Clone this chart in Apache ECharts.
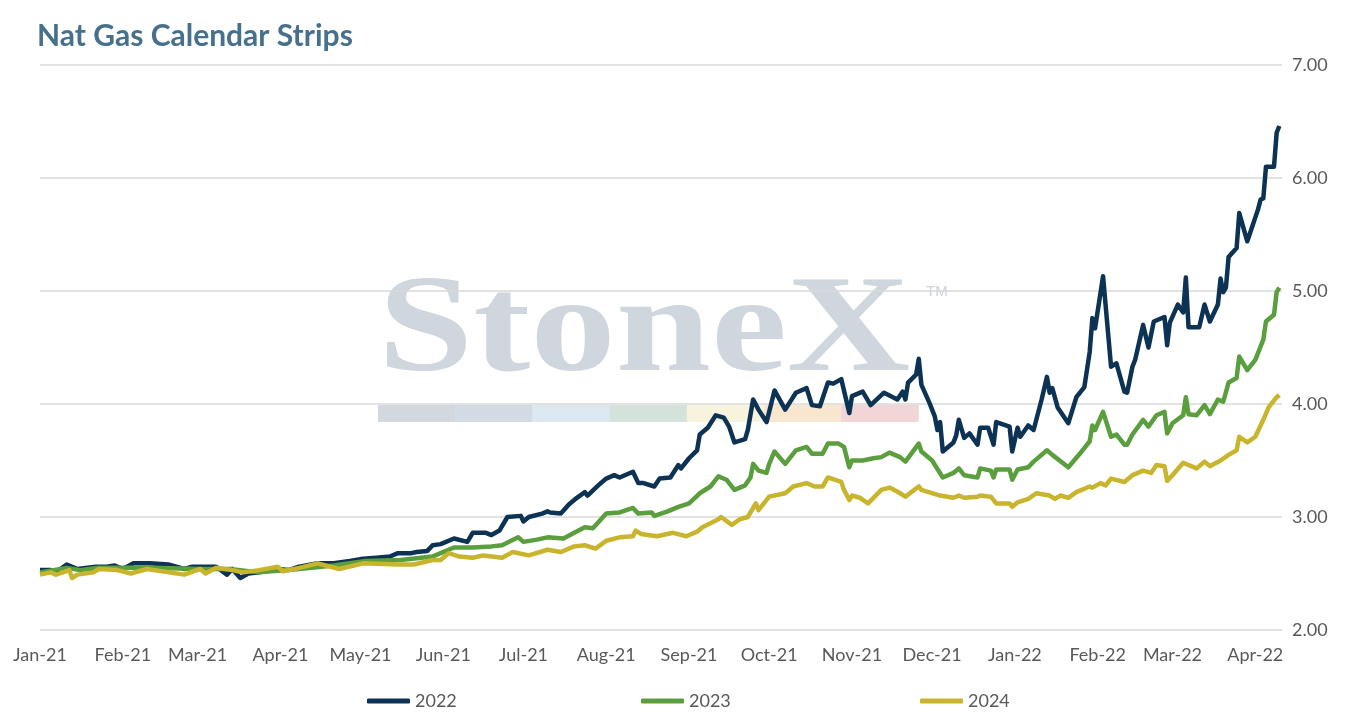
<!DOCTYPE html>
<html>
<head>
<meta charset="utf-8">
<script src="https://cdn.jsdelivr.net/npm/echarts@6/dist/echarts.min.js"></script>
<style>
html,body{margin:0;padding:0;background:#fff;}
#chart{width:1351px;height:720px;}
</style>
</head>
<body>
<div id="chart"></div>
<script>
// ---- data ----
const seriesNames = ['2022', '2023', '2024'];
const yTicks = [2, 3, 4, 5, 6, 7];

const dates2022 = ['2021-01-01','2021-01-05','2021-01-07','2021-01-11','2021-01-15','2021-01-22','2021-01-26','2021-01-29','2021-02-01','2021-02-05','2021-02-11','2021-02-18','2021-02-24','2021-02-27','2021-03-03','2021-03-08','2021-03-12','2021-03-14','2021-03-17','2021-03-20','2021-03-24','2021-03-31','2021-04-04','2021-04-08','2021-04-15','2021-04-21','2021-04-27','2021-05-02','2021-05-07','2021-05-12','2021-05-15','2021-05-20','2021-05-22','2021-05-26','2021-05-28','2021-05-31','2021-06-05','2021-06-10','2021-06-12','2021-06-17','2021-06-19','2021-06-22','2021-06-25','2021-06-30','2021-07-01','2021-07-03','2021-07-08','2021-07-10','2021-07-11','2021-07-15','2021-07-18','2021-07-21','2021-07-24','2021-07-25','2021-07-29','2021-08-01','2021-08-04','2021-08-06','2021-08-11','2021-08-13','2021-08-15','2021-08-19','2021-08-21','2021-08-25','2021-08-28','2021-08-29','2021-09-01','2021-09-04','2021-09-05','2021-09-08','2021-09-11','2021-09-14','2021-09-16','2021-09-18','2021-09-22','2021-09-23','2021-09-25','2021-09-27','2021-09-30','2021-10-01','2021-10-03','2021-10-07','2021-10-11','2021-10-15','2021-10-17','2021-10-20','2021-10-23','2021-10-25','2021-10-28','2021-10-31','2021-11-01','2021-11-05','2021-11-08','2021-11-13','2021-11-18','2021-11-20','2021-11-21','2021-11-22','2021-11-25','2021-11-26','2021-11-27','2021-11-30','2021-12-02','2021-12-03','2021-12-04','2021-12-05','2021-12-09','2021-12-10','2021-12-11','2021-12-13','2021-12-15','2021-12-18','2021-12-19','2021-12-22','2021-12-24','2021-12-25','2021-12-30','2021-12-31','2022-01-02','2022-01-03','2022-01-06','2022-01-08','2022-01-11','2022-01-13','2022-01-14','2022-01-15','2022-01-17','2022-01-21','2022-01-24','2022-01-27','2022-01-29','2022-01-30','2022-01-31','2022-02-03','2022-02-06','2022-02-08','2022-02-11','2022-02-12','2022-02-14','2022-02-15','2022-02-18','2022-02-20','2022-02-22','2022-02-26','2022-02-27','2022-02-28','2022-03-03','2022-03-05','2022-03-06','2022-03-07','2022-03-11','2022-03-13','2022-03-15','2022-03-18','2022-03-19','2022-03-20','2022-03-21','2022-03-22','2022-03-25','2022-03-26','2022-03-29','2022-04-02','2022-04-03','2022-04-04','2022-04-05','2022-04-08','2022-04-09','2022-04-10'];
const values2022 = [2.53,2.53,2.51,2.58,2.54,2.56,2.56,2.57,2.54,2.59,2.59,2.58,2.54,2.56,2.56,2.56,2.49,2.54,2.46,2.50,2.51,2.54,2.53,2.56,2.59,2.59,2.61,2.63,2.64,2.65,2.68,2.68,2.69,2.70,2.75,2.76,2.81,2.78,2.86,2.86,2.84,2.88,3.00,3.01,2.96,3.00,3.03,3.05,3.04,3.03,3.11,3.17,3.22,3.19,3.28,3.34,3.37,3.35,3.40,3.30,3.30,3.27,3.34,3.35,3.46,3.43,3.52,3.59,3.73,3.79,3.90,3.88,3.80,3.66,3.69,3.77,4.04,3.95,3.84,3.93,4.12,3.95,4.10,4.14,3.99,3.98,4.19,4.18,4.22,3.92,4.07,4.11,3.99,4.10,4.04,4.11,4.04,4.19,4.26,4.40,4.17,4.01,3.89,3.77,3.84,3.58,3.66,3.72,3.86,3.70,3.74,3.64,3.79,3.79,3.64,3.84,3.80,3.58,3.79,3.71,3.81,3.77,4.04,4.24,4.10,4.14,3.97,3.83,4.06,4.15,4.46,4.76,4.67,5.13,4.33,4.36,4.11,4.10,4.33,4.39,4.70,4.50,4.73,4.77,4.52,4.72,4.88,4.81,5.12,4.68,4.68,4.88,4.73,4.88,5.11,4.99,5.03,5.30,5.38,5.69,5.44,5.72,5.81,5.82,6.10,6.10,6.40,6.46];

const dates2023 = ['2021-01-01','2021-01-11','2021-01-16','2021-01-23','2021-02-11','2021-03-02','2021-03-13','2021-03-24','2021-04-08','2021-04-21','2021-05-03','2021-05-16','2021-05-28','2021-05-31','2021-06-05','2021-06-12','2021-06-19','2021-06-23','2021-06-29','2021-07-01','2021-07-06','2021-07-10','2021-07-16','2021-07-20','2021-07-24','2021-07-27','2021-08-01','2021-08-06','2021-08-11','2021-08-13','2021-08-18','2021-08-19','2021-08-24','2021-08-28','2021-09-01','2021-09-05','2021-09-09','2021-09-12','2021-09-15','2021-09-18','2021-09-22','2021-09-24','2021-09-25','2021-09-27','2021-09-30','2021-10-01','2021-10-03','2021-10-07','2021-10-11','2021-10-15','2021-10-17','2021-10-21','2021-10-23','2021-10-27','2021-10-29','2021-10-31','2021-11-01','2021-11-05','2021-11-09','2021-11-12','2021-11-15','2021-11-19','2021-11-21','2021-11-26','2021-11-27','2021-12-01','2021-12-05','2021-12-09','2021-12-11','2021-12-13','2021-12-18','2021-12-19','2021-12-23','2021-12-24','2021-12-25','2021-12-30','2021-12-31','2022-01-02','2022-01-06','2022-01-08','2022-01-13','2022-01-15','2022-01-21','2022-01-26','2022-01-29','2022-01-30','2022-01-31','2022-02-03','2022-02-06','2022-02-08','2022-02-11','2022-02-12','2022-02-14','2022-02-18','2022-02-20','2022-02-23','2022-02-26','2022-02-27','2022-03-01','2022-03-05','2022-03-06','2022-03-07','2022-03-10','2022-03-13','2022-03-15','2022-03-18','2022-03-20','2022-03-22','2022-03-25','2022-03-26','2022-03-29','2022-04-01','2022-04-04','2022-04-05','2022-04-08','2022-04-09','2022-04-10'];
const values2023 = [2.51,2.55,2.53,2.55,2.55,2.54,2.54,2.51,2.54,2.57,2.61,2.62,2.65,2.68,2.73,2.73,2.74,2.75,2.82,2.78,2.80,2.82,2.81,2.86,2.91,2.90,3.03,3.04,3.08,3.03,3.04,3.01,3.05,3.09,3.12,3.21,3.27,3.36,3.33,3.24,3.28,3.35,3.47,3.41,3.39,3.47,3.58,3.47,3.59,3.62,3.56,3.56,3.65,3.65,3.62,3.44,3.50,3.50,3.52,3.53,3.57,3.53,3.49,3.65,3.58,3.50,3.35,3.39,3.43,3.37,3.35,3.43,3.41,3.35,3.42,3.42,3.33,3.42,3.44,3.49,3.59,3.55,3.44,3.58,3.67,3.81,3.77,3.93,3.71,3.73,3.64,3.64,3.73,3.86,3.80,3.90,3.93,3.74,3.83,3.90,4.06,3.91,3.90,3.99,3.91,4.04,4.02,4.19,4.23,4.42,4.30,4.39,4.57,4.73,4.79,4.99,5.03];

const dates2024 = ['2021-01-01','2021-01-05','2021-01-07','2021-01-12','2021-01-13','2021-01-15','2021-01-21','2021-01-23','2021-01-30','2021-02-04','2021-02-10','2021-02-24','2021-03-02','2021-03-04','2021-03-08','2021-03-14','2021-03-18','2021-03-24','2021-03-31','2021-04-02','2021-04-08','2021-04-15','2021-04-23','2021-05-02','2021-05-15','2021-05-21','2021-05-28','2021-05-31','2021-06-03','2021-06-07','2021-06-12','2021-06-16','2021-06-23','2021-06-27','2021-07-03','2021-07-10','2021-07-15','2021-07-20','2021-07-24','2021-07-28','2021-08-01','2021-08-06','2021-08-11','2021-08-12','2021-08-14','2021-08-20','2021-08-26','2021-08-31','2021-09-04','2021-09-06','2021-09-12','2021-09-13','2021-09-17','2021-09-20','2021-09-23','2021-09-26','2021-09-27','2021-10-01','2021-10-03','2021-10-07','2021-10-10','2021-10-15','2021-10-18','2021-10-21','2021-10-23','2021-10-28','2021-10-29','2021-10-31','2021-11-01','2021-11-04','2021-11-07','2021-11-12','2021-11-15','2021-11-16','2021-11-19','2021-11-21','2021-11-26','2021-11-27','2021-12-04','2021-12-09','2021-12-11','2021-12-13','2021-12-18','2021-12-19','2021-12-23','2021-12-25','2021-12-30','2021-12-31','2022-01-02','2022-01-06','2022-01-09','2022-01-14','2022-01-16','2022-01-18','2022-01-21','2022-01-24','2022-01-29','2022-01-30','2022-02-02','2022-02-04','2022-02-06','2022-02-11','2022-02-14','2022-02-18','2022-02-21','2022-02-23','2022-02-26','2022-02-27','2022-03-01','2022-03-05','2022-03-10','2022-03-13','2022-03-15','2022-03-19','2022-03-22','2022-03-25','2022-03-26','2022-03-29','2022-04-01','2022-04-04','2022-04-06','2022-04-09','2022-04-10'];
const values2024 = [2.49,2.51,2.49,2.53,2.46,2.49,2.51,2.54,2.53,2.50,2.54,2.49,2.54,2.50,2.55,2.53,2.51,2.53,2.56,2.52,2.55,2.59,2.54,2.59,2.58,2.58,2.62,2.62,2.68,2.65,2.64,2.66,2.64,2.69,2.66,2.71,2.69,2.74,2.75,2.72,2.79,2.82,2.83,2.88,2.85,2.83,2.86,2.83,2.87,2.91,2.98,3.00,2.93,2.98,3.00,3.12,3.06,3.18,3.19,3.21,3.27,3.30,3.27,3.27,3.35,3.31,3.24,3.15,3.19,3.17,3.12,3.24,3.26,3.25,3.21,3.18,3.27,3.24,3.19,3.17,3.19,3.17,3.18,3.19,3.18,3.12,3.12,3.09,3.13,3.16,3.21,3.19,3.16,3.19,3.17,3.22,3.27,3.26,3.30,3.28,3.34,3.31,3.37,3.41,3.39,3.46,3.45,3.32,3.37,3.48,3.43,3.49,3.45,3.50,3.55,3.59,3.71,3.66,3.71,3.86,3.97,4.06,4.08];

const monthNames = ['Jan','Feb','Mar','Apr','May','Jun','Jul','Aug','Sep','Oct','Nov','Dec'];
const axisStart = '2021-01-01';
const axisEnd = '2022-04-11';

// daily category axis
const categories = [];
(function(){
  let t = Date.parse(axisStart + 'T00:00:00Z');
  const end = Date.parse(axisEnd + 'T00:00:00Z');
  while (t <= end) { categories.push(new Date(t).toISOString().slice(0,10)); t += 86400000; }
})();

function pairs(d, v){ return d.map((x,i)=>[x, v[i]]); }

const FONT = 'Lato, "Open Sans", sans-serif';
const colors = ['#0c3353', '#5a9e3e', '#c8b52d'];
const stripColors = ['#d3d8de','#d1dae5','#dce8f2','#d3e2da','#f7f3dd','#f8e6cf','#f1d5d7'];

const chart = echarts.init(document.getElementById('chart'), null, {renderer:'canvas'});

const graphics = [
  {type:'text', x:378, y:334, scaleX:1.24, z:0, silent:true,
   style:{text:'StoneX', fontFamily:'"Liberation Serif", "DejaVu Serif", serif', fontWeight:'bold', fontSize:138, fill:'#cfd6de', verticalAlign:'middle', align:'left'}},
  {type:'text', x:926, y:292, z:0, silent:true,
   style:{text:'TM', fontFamily:'"Liberation Sans", sans-serif', fontSize:15, fill:'#cbd3dc', verticalAlign:'middle', align:'left'}}
];
stripColors.forEach((c,i)=>{
  graphics.push({type:'rect', z:0, silent:true, shape:{x:378 + i*77.2, y:405, width:77.6, height:17}, style:{fill:c}});
});

const legends = seriesNames.map((n,i)=>({
  data:[n], left:[362, 636, 915][i], top:687, icon:'roundRect', itemWidth:43, itemHeight:5,
  textStyle:{fontFamily:FONT, fontSize:18, color:'#595959'}, itemStyle:{borderWidth:0}
}));

chart.setOption({
  animation:false,
  color: colors,
  title:{text:'Nat Gas Calendar Strips', left:32, top:16,
    textStyle:{fontFamily:FONT, fontWeight:'bold', fontSize:30, color:'#46708c'}},
  legend: legends,
  grid:{left:40, right:69, top:65, bottom:90, containLabel:false},
  graphic: graphics,
  xAxis:{
    type:'category', data:categories, boundaryGap:false,
    axisLine:{show:false}, axisTick:{show:false}, splitLine:{show:false},
    axisLabel:{
      interval:(idx, val)=> val.slice(8) === '01',
      formatter:(val)=> monthNames[parseInt(val.slice(5,7),10)-1] + '-' + val.slice(2,4),
      fontFamily:FONT, fontSize:18, color:'#595959', margin:16
    }
  },
  yAxis:{
    type:'value', position:'right', min:yTicks[0], max:yTicks[yTicks.length-1], interval:1,
    axisLine:{show:false}, axisTick:{show:false},
    splitLine:{lineStyle:{color:'#d9d9d9', width:1.6}},
    axisLabel:{formatter:(v)=>v.toFixed(2), fontFamily:FONT, fontSize:18, color:'#595959', margin:10}
  },
  series:[
    {name:'2022', type:'line', data:pairs(dates2022, values2022), showSymbol:false, symbol:'none', z:3, lineStyle:{width:4.5, color:colors[0], join:'round'}},
    {name:'2023', type:'line', data:pairs(dates2023, values2023), showSymbol:false, symbol:'none', z:3, lineStyle:{width:4.5, color:colors[1], join:'round'}},
    {name:'2024', type:'line', data:pairs(dates2024, values2024), showSymbol:false, symbol:'none', z:3, lineStyle:{width:4.5, color:colors[2], join:'round'}}
  ]
});
</script>
</body>
</html>
